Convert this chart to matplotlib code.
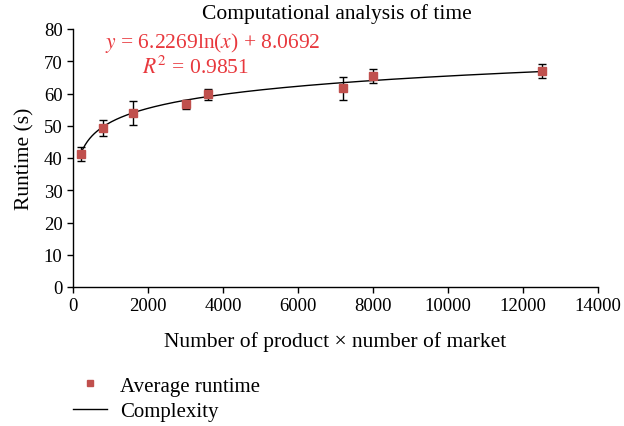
import numpy as np
import matplotlib
matplotlib.use("Agg")
import matplotlib.pyplot as plt
from matplotlib.lines import Line2D

# Data
x_vals = [200, 800, 1600, 3000, 3600, 7200, 8000, 12500]
y_vals = [41.2, 49.2, 53.9, 56.6, 59.7, 61.6, 65.5, 66.9]
y_err = [2.2, 2.5, 3.7, 1.5, 1.8, 3.5, 2.2, 2.2]
coef_a = 6.2269
coef_b = 8.0692
r2 = 0.9851
x_ticks = [0, 2000, 4000, 6000, 8000, 10000, 12000, 14000]
y_ticks = [0, 10, 20, 30, 40, 50, 60, 70, 80]

plt.rcParams['font.family'] = ['Liberation Serif', 'DejaVu Serif']
plt.rcParams['mathtext.fontset'] = 'stix'

fig = plt.figure(figsize=(6.24, 4.27), dpi=100)
ax = fig.add_axes([73/624, 1-288/427, (598-73)/624, (288-30)/427])

xs = np.linspace(min(x_vals), max(x_vals), 400)
ax.plot(xs, coef_a*np.log(xs) + coef_b, color='black', lw=1.0, zorder=2)
ax.errorbar(x_vals, y_vals, yerr=y_err, fmt='none', ecolor='black', elinewidth=1.0,
            capsize=3, capthick=1.0, zorder=3)
ax.plot(x_vals, y_vals, 's', color='#c0504d', markersize=6, zorder=4)

ax.set_xlim(0, 14000)
ax.set_ylim(0, 80)
ax.set_xticks(x_ticks)
ax.set_yticks(y_ticks)
ax.tick_params(direction='out', length=4, width=1, labelsize=13.5, colors='black')
for s in ['top', 'right']:
    ax.spines[s].set_visible(False)
for s in ['left', 'bottom']:
    ax.spines[s].set_linewidth(1.0)

fig.text(337/624, 1-14/427, 'Computational analysis of time', fontsize=15.5,
         ha='center', va='center')
ax.set_xlabel('Number of product \u00d7 number of market', fontsize=15.5, labelpad=12)
ax.set_ylabel('Runtime (s)', fontsize=15.5, labelpad=7)

red = '#e8383d'
fig.text(213/624, 1-43/427, r'$y$ = %.4fln($x$) + %.4f' % (coef_a, coef_b),
         color=red, fontsize=15.5, ha='center', va='center')
fig.text(196/624, 1-68/427, r'$R^2$ = %.4f' % r2,
         color=red, fontsize=15.5, ha='center', va='center')

handles = [Line2D([], [], marker='s', color='#c0504d', linestyle='none', markersize=4.5),
           Line2D([], [], color='black', lw=1.0)]
leg = fig.legend(handles, ['Average runtime', 'Complexity'], loc='upper left',
                 bbox_to_anchor=(73/624, 1-377/427), frameon=False, fontsize=15,
                 handlelength=1.65, handletextpad=0.6, labelspacing=0.3, borderpad=0,
                 borderaxespad=0)

fig.savefig('out.png', dpi=100)
